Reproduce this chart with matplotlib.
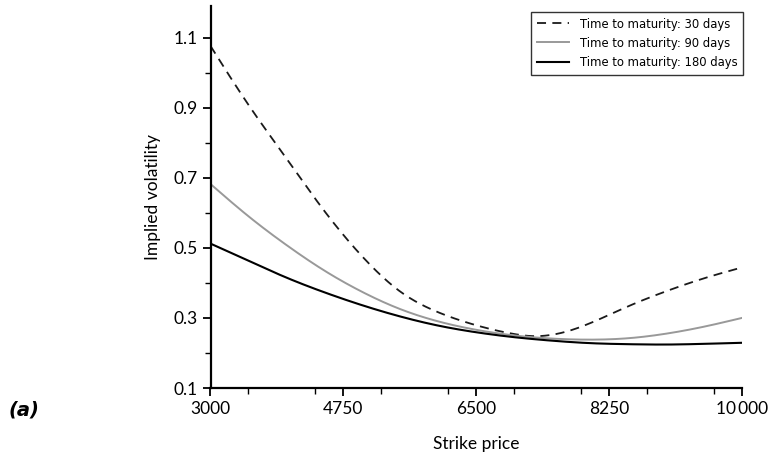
import matplotlib
matplotlib.use("Agg")
import matplotlib.pyplot as plt
from matplotlib.ticker import MultipleLocator, FixedLocator, FixedFormatter
import numpy as np

# Data
strike_30 = [3000, 3500, 4000, 4500, 5000, 5500, 6000, 6500, 7000, 7250, 7500, 7750, 8000, 8500, 9000, 9500, 10000]
vol_30 = [1.076, 0.908, 0.755, 0.605, 0.475, 0.375, 0.316, 0.279, 0.254, 0.248, 0.252, 0.265, 0.285, 0.333, 0.376, 0.413, 0.444]

strike_90 = [3000, 3500, 4000, 4500, 5000, 5500, 6000, 6500, 7000, 7500, 8000, 8500, 9000, 9500, 10000]
vol_90 = [0.682, 0.590, 0.508, 0.435, 0.374, 0.325, 0.290, 0.266, 0.250, 0.241, 0.238, 0.242, 0.255, 0.275, 0.300]

strike_180 = [3000, 3500, 4000, 4500, 5000, 5500, 6000, 6500, 7000, 7500, 8000, 8500, 9000, 9500, 10000]
vol_180 = [0.512, 0.463, 0.415, 0.373, 0.336, 0.304, 0.278, 0.259, 0.245, 0.235, 0.228, 0.225, 0.224, 0.226, 0.229]

x_ticks = [3000, 4750, 6500, 8250, 10000]
x_ticklabels = ["3000", "4750", "6500", "8250", "10\u2009000"]
y_ticks = [0.1, 0.3, 0.5, 0.7, 0.9, 1.1]
y_ticklabels = ["0.1", "0.3", "0.5", "0.7", "0.9", "1.1"]

labels = ["Time to maturity: 30 days", "Time to maturity: 90 days", "Time to maturity: 180 days"]

plt.rcParams['font.family'] = ['Lato', 'DejaVu Sans']


def spline(xs, ys, n=500):
    """Natural cubic spline through the read points (for smooth drawing)."""
    xs = np.asarray(xs, float); ys = np.asarray(ys, float)
    N = len(xs)
    h = np.diff(xs)
    A = np.zeros((N, N)); b = np.zeros(N)
    A[0, 0] = 1; A[-1, -1] = 1
    for i in range(1, N - 1):
        A[i, i - 1] = h[i - 1]
        A[i, i] = 2 * (h[i - 1] + h[i])
        A[i, i + 1] = h[i]
        b[i] = 6 * ((ys[i + 1] - ys[i]) / h[i] - (ys[i] - ys[i - 1]) / h[i - 1])
    M = np.linalg.solve(A, b)
    xf = np.linspace(xs[0], xs[-1], n)
    idx = np.clip(np.searchsorted(xs, xf) - 1, 0, N - 2)
    x0 = xs[idx]; x1 = xs[idx + 1]; hh = h[idx]
    yf = (M[idx] * (x1 - xf) ** 3 / (6 * hh) + M[idx + 1] * (xf - x0) ** 3 / (6 * hh)
          + (ys[idx] / hh - M[idx] * hh / 6) * (x1 - xf)
          + (ys[idx + 1] / hh - M[idx + 1] * hh / 6) * (xf - x0))
    return xf, yf


fig = plt.figure(figsize=(7.68, 4.61), dpi=100)
ax = fig.add_axes([210.5/768, 1-388/461, 531.5/768, 382/461])

x1, y1 = spline(strike_30, vol_30)
x2, y2 = spline(strike_90, vol_90)
x3, y3 = spline(strike_180, vol_180)
ax.plot(x1, y1, color='#1a1a1a', lw=1.3, ls=(0, (5, 3.5)), label=labels[0])
ax.plot(x2, y2, color='#999999', lw=1.4, label=labels[1])
ax.plot(x3, y3, color='black', lw=1.5, label=labels[2])

ax.set_xlim(3000, 10000)
ax.set_ylim(0.1, 1.19)
ax.xaxis.set_major_locator(FixedLocator(x_ticks))
ax.xaxis.set_major_formatter(FixedFormatter(x_ticklabels))
ax.xaxis.set_minor_locator(MultipleLocator(875))
ax.yaxis.set_major_locator(FixedLocator(y_ticks))
ax.yaxis.set_major_formatter(FixedFormatter(y_ticklabels))
ax.yaxis.set_minor_locator(MultipleLocator(0.1))

for s in ['top', 'right']:
    ax.spines[s].set_visible(False)
for s in ['left', 'bottom']:
    ax.spines[s].set_linewidth(1.6)
ax.tick_params(which='major', direction='out', length=6, width=1.3, labelsize=12.5, pad=3)
ax.tick_params(which='minor', direction='out', length=4, width=1.0)

ax.set_xlabel("Strike price", fontsize=12.5, labelpad=14)
ax.set_ylabel("Implied volatility", fontsize=12.5, labelpad=9)

leg = ax.legend(loc='upper right', bbox_to_anchor=(1.002, 0.985), borderaxespad=0.0,
                frameon=True, fancybox=False, edgecolor='black', handlelength=2.5,
                handletextpad=0.8, borderpad=0.45, labelspacing=0.5,
                prop={'family': ['DejaVu Sans'], 'stretch': 'condensed', 'size': 9.3})
leg.get_frame().set_linewidth(1.0)

fig.text(8/768, 1-410/461, "(a)", fontsize=14, fontweight='bold', fontstyle='italic',
         family=['DejaVu Sans'], va='center', ha='left')

fig.savefig("out.png", dpi=100)
